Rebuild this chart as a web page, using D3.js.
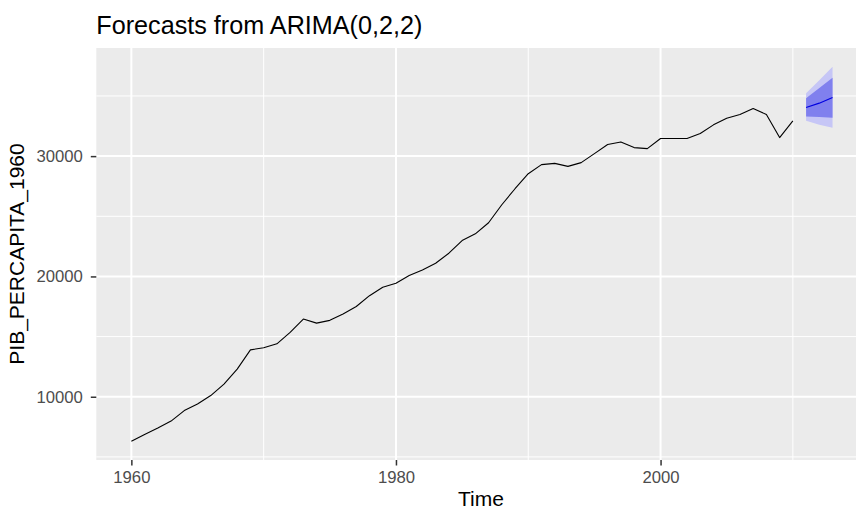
<!DOCTYPE html>
<html><head><meta charset="utf-8">
<script src="https://cdn.jsdelivr.net/npm/d3@7"></script>
<style>
html,body{margin:0;padding:0;background:#fff;}
svg{display:block;font-family:"Liberation Sans",Arial,sans-serif;}
</style></head>
<body><svg id="chart" width="856" height="510"></svg>
<script>
// observed series
const years = d3.range(1960, 2011);
const values = [6300,6870,7400,7980,8850,9400,10100,11050,12300,13900,
  14070,14400,15350,16460,16120,16350,16870,17500,18400,19100,
  19430,20070,20540,21100,21930,22980,23540,24460,25960,27290,
  28540,29290,29400,29150,29460,30210,30960,31180,30710,30625,
  31460,31460,31460,31875,32600,33150,33460,33960,33460,31540,32930];
// forecast
const fYears = [2011, 2012, 2013];
const fMean = [34040, 34400, 34875];
const lo80 = [33300, 33260, 33180];
const hi80 = [34800, 35660, 36520];
const lo95 = [32950, 32610, 32350];
const hi95 = [35230, 36310, 37430];
const xTicks = [1960, 1980, 2000];
const xMinor = [1970, 1990, 2010];
const yTicks = [10000, 20000, 30000];
const yMinor = [5000, 15000, 25000, 35000];
const title = "Forecasts from ARIMA(0,2,2)";
const xTitle = "Time";
const yTitle = "PIB_PERCAPITA_1960";

const svg = d3.select("#chart");
const P = {left: 96.3, top: 48, bottom: 460};
const pxPerYear = 13.23;

const allX = years.concat(fYears);
const xMin = d3.min(allX), xMax = d3.max(allX);
const xExp = (xMax - xMin) * 0.05;
const xDom = [xMin - xExp, xMax + xExp];
const x = d3.scaleLinear().domain(xDom).range([P.left, P.left + (xDom[1]-xDom[0]) * pxPerYear]);

const allY = values.concat(lo95, hi95);
const yMin = d3.min(allY), yMax = d3.max(allY);
const yExp = (yMax - yMin) * 0.05;
const y = d3.scaleLinear().domain([yMin - yExp, yMax + yExp]).range([P.bottom, P.top]);

const R = x.range()[1];
// panel
svg.append("rect").attr("x", P.left).attr("y", P.top)
  .attr("width", R - P.left).attr("height", P.bottom - P.top).attr("fill", "#EBEBEB");

const g = svg.append("g");
// minor grid
g.selectAll(".ymin").data(yMinor).join("line")
  .attr("x1", P.left).attr("x2", R).attr("y1", d => y(d)).attr("y2", d => y(d))
  .attr("stroke", "#fff").attr("stroke-width", 1);
g.selectAll(".xmin").data(xMinor).join("line")
  .attr("y1", P.top).attr("y2", P.bottom).attr("x1", d => x(d)).attr("x2", d => x(d))
  .attr("stroke", "#fff").attr("stroke-width", 1);
// major grid
g.selectAll(".ymaj").data(yTicks).join("line")
  .attr("x1", P.left).attr("x2", R).attr("y1", d => y(d)).attr("y2", d => y(d))
  .attr("stroke", "#fff").attr("stroke-width", 2);
g.selectAll(".xmaj").data(xTicks).join("line")
  .attr("y1", P.top).attr("y2", P.bottom).attr("x1", d => x(d)).attr("x2", d => x(d))
  .attr("stroke", "#fff").attr("stroke-width", 2);

// bands
const band95 = d3.area().x((d, i) => x(fYears[i])).y0((d, i) => y(lo95[i])).y1((d, i) => y(hi95[i]));
const band80 = d3.area().x((d, i) => x(fYears[i])).y0((d, i) => y(lo80[i])).y1((d, i) => y(hi80[i]));
svg.append("path").datum(fYears).attr("d", band95).attr("fill", "#C6C6F6");
svg.append("path").datum(fYears).attr("d", band80).attr("fill", "#8080EE");

// observed line
const line = d3.line().x((d, i) => x(years[i])).y(d => y(d));
svg.append("path").datum(values).attr("d", line)
  .attr("fill", "none").attr("stroke", "#000").attr("stroke-width", 1.1).attr("stroke-linejoin", "round");
// forecast mean
const fline = d3.line().x((d, i) => x(fYears[i])).y(d => y(d));
svg.append("path").datum(fMean).attr("d", fline)
  .attr("fill", "none").attr("stroke", "#0000E0").attr("stroke-width", 1.2);

// axes
const xAxis = d3.axisBottom(x).tickValues(xTicks).tickSize(5.5).tickPadding(6).tickFormat(d3.format("d"));
const xa = svg.append("g").attr("transform", `translate(0,${P.bottom})`).call(xAxis);
xa.select(".domain").remove();
xa.selectAll(".tick line").attr("stroke", "#333333").attr("stroke-width", 1.5);
xa.selectAll(".tick text").attr("fill", "#4D4D4D").attr("font-size", 16.7)
  .attr("font-family", "Liberation Sans, Arial, sans-serif");

const yAxis = d3.axisLeft(y).tickValues(yTicks).tickSize(5.5).tickPadding(8).tickFormat(d3.format("d"));
const ya = svg.append("g").attr("transform", `translate(${P.left},0)`).call(yAxis);
ya.select(".domain").remove();
ya.selectAll(".tick line").attr("stroke", "#333333").attr("stroke-width", 1.5);
ya.selectAll(".tick text").attr("fill", "#4D4D4D").attr("font-size", 16.7)
  .attr("font-family", "Liberation Sans, Arial, sans-serif");

// titles
svg.append("text").attr("x", P.left).attr("y", 33.5).attr("font-size", 25.2).attr("fill", "#000").text(title);
svg.append("text").attr("x", (P.left + R) / 2 - 1).attr("y", 506).attr("text-anchor", "middle")
  .attr("font-size", 21).attr("fill", "#000").text(xTitle);
svg.append("text").attr("transform", `translate(24,${(P.top + P.bottom) / 2}) rotate(-90)`)
  .attr("text-anchor", "middle").attr("font-size", 21).attr("fill", "#000").text(yTitle);
</script></body></html>
